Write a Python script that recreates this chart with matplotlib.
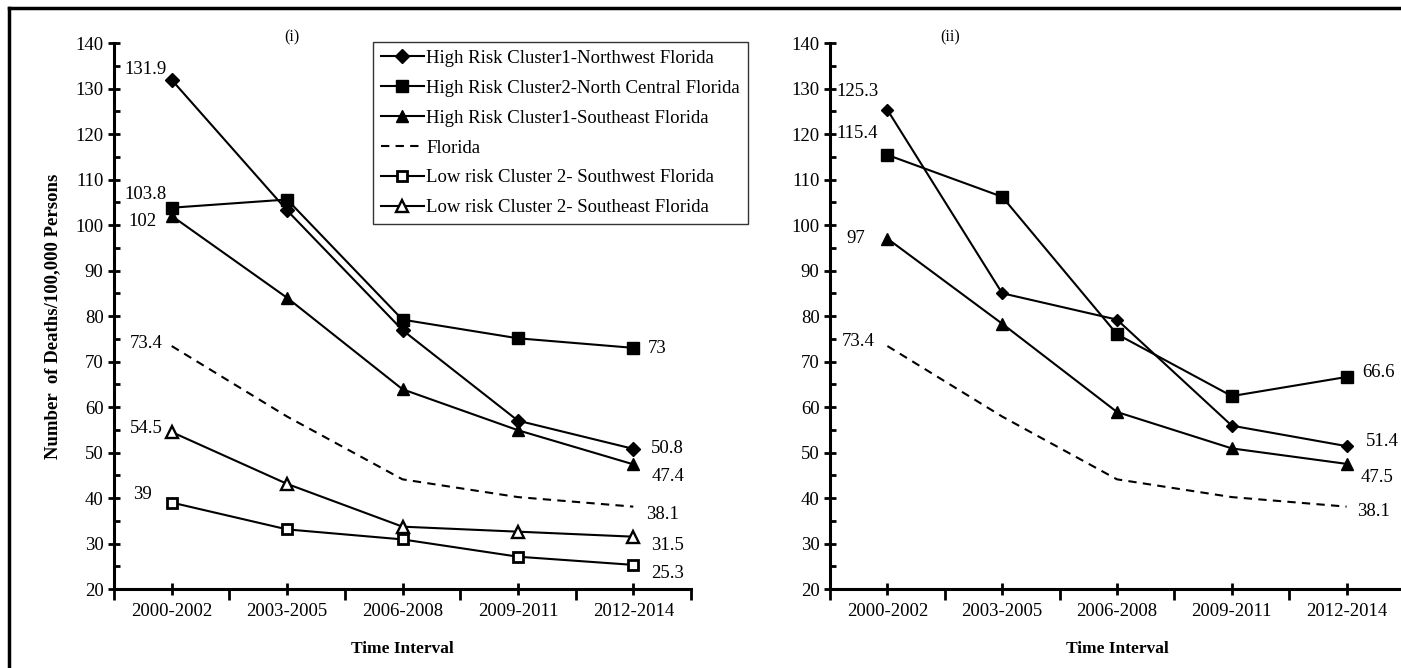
import matplotlib
matplotlib.use("Agg")
import matplotlib.pyplot as plt
from matplotlib.lines import Line2D
from matplotlib.ticker import MultipleLocator, FixedLocator

plt.rcParams['font.family'] = ['Liberation Serif', 'DejaVu Serif']

# data
intervals = ["2000-2002", "2003-2005", "2006-2008", "2009-2011", "2012-2014"]

# panel (i)
i_hr1_nw = [131.9, 103.2, 76.9, 57.0, 50.8]
i_hr2_nc = [103.8, 105.6, 79.2, 75.1, 73.0]
i_hr1_se = [102.0, 84.0, 63.9, 54.9, 47.4]
florida = [73.4, 57.9, 44.1, 40.2, 38.1]
i_lr_sw = [39.0, 33.1, 30.9, 27.1, 25.3]
i_lr_se = [54.5, 43.1, 33.7, 32.6, 31.5]

# panel (ii)
ii_hr1_nw = [125.3, 85.0, 79.2, 55.9, 51.4]
ii_hr2_nc = [115.4, 106.2, 76.0, 62.4, 66.6]
ii_hr1_se = [97.0, 78.3, 58.9, 50.9, 47.5]

labels = ["High Risk Cluster1-Northwest Florida",
          "High Risk Cluster2-North Central Florida",
          "High Risk Cluster1-Southeast Florida",
          "Florida",
          "Low risk Cluster 2- Southwest Florida",
          "Low risk Cluster 2- Southeast Florida"]

W, H = 1401, 668
fig = plt.figure(figsize=(W / 100, H / 100), dpi=100)

def px_axes(x0, x1, ytop, ybot):
    return fig.add_axes([x0 / W, 1 - ybot / H, (x1 - x0) / W, (ybot - ytop) / H])

ax1 = px_axes(114, 691, 43, 589)
ax2 = px_axes(830, 1404, 43, 589)

x = list(range(len(intervals)))
lw = 1.5
fs = 13.5
styles = [
    dict(marker='D', ms=7, mfc='black'),
    dict(marker='s', ms=8, mfc='black'),
    dict(marker='^', ms=8, mfc='black'),
    dict(marker=None, ls=(0, (4, 3))),
    dict(marker='s', ms=7.5, mfc='white', mew=2.0),
    dict(marker='^', ms=8.5, mfc='white', mew=1.7),
]

series1 = [i_hr1_nw, i_hr2_nc, i_hr1_se, florida, i_lr_sw, i_lr_se]
handles = []
for vals, st, lab in zip(series1, styles, labels):
    kw = dict(color='black', lw=lw, mec='black')
    kw.update(st)
    h, = ax1.plot(x, vals, label=lab, **kw)
    handles.append(h)

series2 = [ii_hr1_nw, ii_hr2_nc, ii_hr1_se, florida]
styles2 = [dict(marker='D', ms=6, mfc='black')] + styles[1:4]
for vals, st in zip(series2, styles2):
    kw = dict(color='black', lw=lw, mec='black')
    kw.update(st)
    ax2.plot(x, vals, **kw)

for ax in (ax1, ax2):
    ax.set_xlim(-0.5, len(intervals) - 0.5)
    ax.set_ylim(20, 140)
    ax.yaxis.set_major_locator(MultipleLocator(10))
    ax.yaxis.set_minor_locator(MultipleLocator(5))
    ax.xaxis.set_major_locator(FixedLocator([i - 0.5 for i in range(len(intervals) + 1)]))
    ax.xaxis.set_minor_locator(FixedLocator(x))
    ax.set_xticklabels([], minor=False)
    ax.set_xticklabels(intervals, minor=True)
    ax.tick_params(axis='x', which='major', direction='out', length=8, width=2)
    ax.tick_params(axis='x', which='minor', direction='inout', length=8, width=2,
                   labelsize=fs, pad=6)
    ax.tick_params(axis='y', which='major', direction='inout', length=9, width=2,
                   labelsize=fs, pad=3)
    ax.tick_params(axis='y', which='minor', direction='in', length=4, width=2)
    for s in ('top', 'right'):
        ax.spines[s].set_visible(False)
    for s in ('left', 'bottom'):
        ax.spines[s].set_linewidth(2.2)
    ax.set_xlabel("Time Interval", fontweight='bold', fontsize=12.5, labelpad=15)

ax1.set_ylabel("Number  of Deaths/100,000 Persons", fontweight='bold', fontsize=13.5,
               labelpad=10)

def lab(ax, xi, yv, txt, dx, dy, ha):
    ax.annotate(txt, (xi, yv), xytext=(dx, dy), textcoords='offset pixels',
                ha=ha, va='center', fontsize=fs)

# panel (i) value labels
lab(ax1, 0, i_hr1_nw[0], "131.9", -5, 10, 'right')
lab(ax1, 0, i_hr2_nc[0], "103.8", -5, 13, 'right')
lab(ax1, 0, i_hr1_se[0], "102", -15, -6, 'right')
lab(ax1, 0, florida[0], "73.4", -9, 3, 'right')
lab(ax1, 0, i_lr_se[0], "54.5", -9, 4, 'right')
lab(ax1, 0, i_lr_sw[0], "39", -20, 8, 'right')
lab(ax1, 4, i_hr2_nc[4], "73", 14, -1, 'left')
lab(ax1, 4, i_hr1_nw[4], "50.8", 18, 0, 'left')
lab(ax1, 4, i_hr1_se[4], "47.4", 18, -12, 'left')
lab(ax1, 4, florida[4], "38.1", 13, -8, 'left')
lab(ax1, 4, i_lr_se[4], "31.5", 18, -9, 'left')
lab(ax1, 4, i_lr_sw[4], "25.3", 18, -9, 'left')

# panel (ii) value labels
lab(ax2, 0, ii_hr1_nw[0], "125.3", -30, 18, 'center')
lab(ax2, 0, ii_hr2_nc[0], "115.4", -30, 21, 'center')
lab(ax2, 0, ii_hr1_se[0], "97", -22, 0, 'right')
lab(ax2, 0, florida[0], "73.4", -13, 5, 'right')
lab(ax2, 4, ii_hr2_nc[4], "66.6", 16, 4, 'left')
lab(ax2, 4, ii_hr1_nw[4], "51.4", 19, 5, 'left')
lab(ax2, 4, ii_hr1_se[4], "47.5", 14, -14, 'left')
lab(ax2, 4, florida[4], "38.1", 10, -5, 'left')

fig.text(292 / W, 1 - 37 / H, "(i)", ha='center', va='center', fontsize=11.5)
fig.text(950 / W, 1 - 37 / H, "(ii)", ha='center', va='center', fontsize=11.5)

leg = fig.legend(handles=handles, loc='upper left',
                 bbox_to_anchor=(373 / W, 1 - 42 / H), fontsize=fs,
                 frameon=True, fancybox=False, edgecolor='black',
                 handlelength=2.3, handletextpad=0.12, labelspacing=0.68,
                 borderpad=0.42, borderaxespad=0)
leg.get_frame().set_linewidth(1.0)

# outer frame lines (top and left only visible in the crop)
fig.add_artist(Line2D([9 / W, 1], [1 - 8 / H, 1 - 8 / H], color='black', lw=2.5,
                      transform=fig.transFigure))
fig.add_artist(Line2D([9 / W, 9 / W], [0, 1 - 8 / H], color='black', lw=2.5,
                      transform=fig.transFigure))

fig.savefig("out.png", dpi=100)
